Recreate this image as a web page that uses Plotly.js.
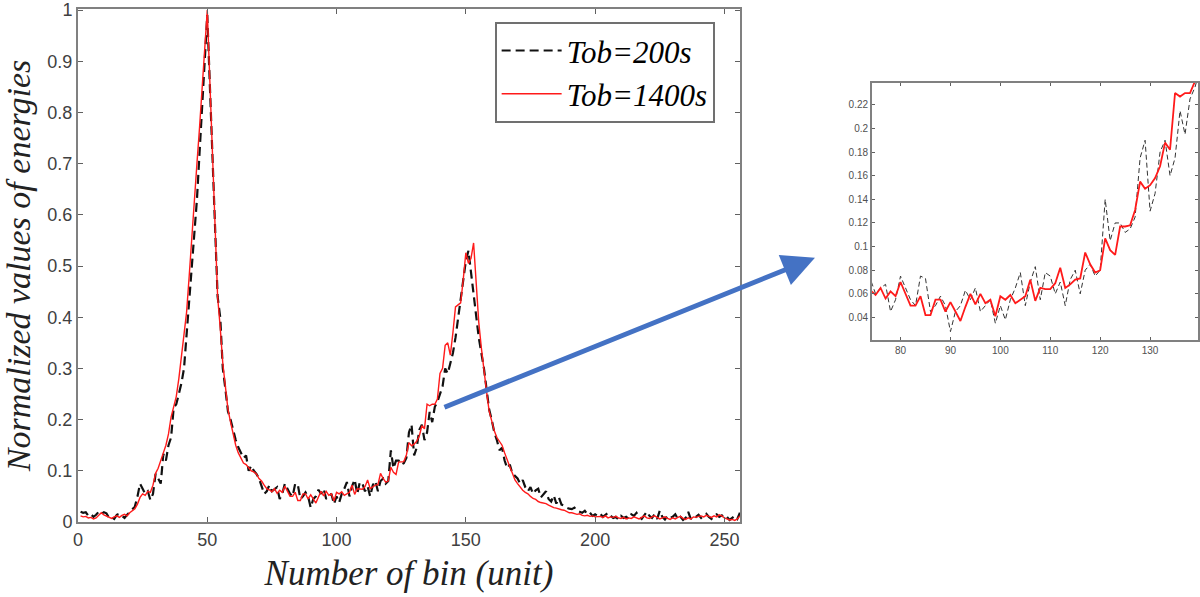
<!DOCTYPE html>
<html>
<head>
<meta charset="utf-8">
<script src="https://cdn.plot.ly/plotly-3.0.1.min.js"></script>
<style>
  html, body { margin: 0; padding: 0; background: #fff; }
  #plot { width: 1200px; height: 597px; }
</style>
</head>
<body>
<div id="plot"></div>
<script>
// bin numbers 1..256
var bins = [];
for (var i = 1; i <= 256; i++) bins.push(i);

// Tob=1400s (red solid)
var tob1400 = [
  0.012, 0.010, 0.011, 0.008, 0.009, 0.006, 0.008, 0.014, 0.018, 0.014,
  0.012, 0.010, 0.007, 0.010, 0.012, 0.009, 0.013, 0.015, 0.012, 0.018,
  0.022, 0.026, 0.035, 0.048, 0.055, 0.052, 0.060, 0.058, 0.072, 0.095,
  0.105, 0.118, 0.135, 0.150, 0.172, 0.205, 0.225, 0.245, 0.280, 0.320,
  0.360, 0.410, 0.480, 0.560, 0.630, 0.700, 0.770, 0.850, 0.925, 1.000,
  0.860, 0.720, 0.580, 0.440, 0.380, 0.310, 0.265, 0.220, 0.195, 0.170,
  0.150, 0.135, 0.125, 0.115, 0.112, 0.105, 0.100, 0.098, 0.094, 0.085,
  0.080, 0.072, 0.065, 0.063, 0.059, 0.065, 0.056, 0.062, 0.058, 0.070,
  0.060, 0.050, 0.050, 0.058, 0.042, 0.042, 0.055, 0.055, 0.045, 0.053,
  0.045, 0.037, 0.049, 0.060, 0.051, 0.060, 0.052, 0.055, 0.041, 0.058,
  0.055, 0.059, 0.052, 0.055, 0.058, 0.072, 0.054, 0.065, 0.064, 0.064,
  0.069, 0.082, 0.065, 0.068, 0.072, 0.073, 0.095, 0.085, 0.078, 0.080,
  0.107, 0.097, 0.093, 0.117, 0.117, 0.118, 0.131, 0.155, 0.149, 0.152,
  0.158, 0.168, 0.188, 0.182, 0.230, 0.227, 0.230, 0.230, 0.240, 0.290,
  0.300, 0.345, 0.350, 0.326, 0.370, 0.420, 0.424, 0.428, 0.474, 0.526,
  0.505, 0.515, 0.545, 0.465, 0.390, 0.340, 0.294, 0.255, 0.217, 0.195,
  0.178, 0.165, 0.158, 0.150, 0.135, 0.120, 0.108, 0.095, 0.082, 0.075,
  0.068, 0.062, 0.058, 0.055, 0.050, 0.046, 0.044, 0.040, 0.038, 0.037,
  0.036, 0.033, 0.030, 0.028, 0.027, 0.025, 0.024, 0.023, 0.020, 0.018,
  0.018, 0.016, 0.015, 0.016, 0.013, 0.012, 0.013, 0.011, 0.012, 0.010,
  0.010, 0.011, 0.009, 0.012, 0.008, 0.010, 0.009, 0.011, 0.008, 0.007,
  0.009, 0.006, 0.008, 0.007, 0.010, 0.008, 0.006, 0.009, 0.012, 0.008,
  0.007, 0.010, 0.012, 0.009, 0.006, 0.008, 0.010, 0.007, 0.005, 0.008,
  0.006, 0.009, 0.011, 0.007, 0.005, 0.008, 0.006, 0.010, 0.009, 0.011,
  0.012, 0.010, 0.013, 0.011, 0.009, 0.012, 0.010, 0.014, 0.012, 0.008,
  0.006, 0.004, 0.005, 0.003, 0.006, 0.012
];

// Tob=200s (black dashed)
var tob200 = [
  0.020, 0.018, 0.019, 0.012, 0.015, 0.010, 0.014, 0.020, 0.016, 0.019,
  0.017, 0.008, 0.010, 0.006, 0.014, 0.016, 0.012, 0.008, 0.014, 0.020,
  0.024, 0.030, 0.050, 0.075, 0.065, 0.055, 0.060, 0.043, 0.055, 0.094,
  0.085, 0.075, 0.133, 0.120, 0.150, 0.165, 0.223, 0.230, 0.250, 0.271,
  0.300, 0.365, 0.430, 0.490, 0.560, 0.630, 0.720, 0.800, 0.900, 0.990,
  0.850, 0.710, 0.570, 0.440, 0.400, 0.300, 0.260, 0.216, 0.200, 0.178,
  0.160, 0.146, 0.135, 0.125, 0.130, 0.100, 0.110, 0.100, 0.094, 0.085,
  0.070, 0.055, 0.060, 0.072, 0.060, 0.065, 0.068, 0.045, 0.055, 0.075,
  0.065, 0.055, 0.050, 0.075, 0.073, 0.045, 0.050, 0.058, 0.050, 0.028,
  0.045, 0.050, 0.063, 0.055, 0.065, 0.045, 0.050, 0.055, 0.035, 0.050,
  0.038, 0.055, 0.065, 0.078, 0.050, 0.070, 0.083, 0.055, 0.078, 0.075,
  0.060, 0.070, 0.050, 0.072, 0.080, 0.060, 0.080, 0.085, 0.075, 0.080,
  0.140, 0.105, 0.120, 0.120, 0.112, 0.115, 0.125, 0.175, 0.190, 0.130,
  0.145, 0.180, 0.190, 0.160, 0.175, 0.215, 0.195, 0.225, 0.235, 0.250,
  0.265, 0.300, 0.290, 0.310, 0.330, 0.360, 0.400, 0.430, 0.470, 0.510,
  0.530, 0.487, 0.450, 0.400, 0.360, 0.330, 0.300, 0.260, 0.220, 0.200,
  0.175, 0.160, 0.140, 0.145, 0.120, 0.105, 0.112, 0.095, 0.090, 0.085,
  0.075, 0.082, 0.068, 0.060, 0.068, 0.055, 0.062, 0.065, 0.048, 0.055,
  0.060, 0.045, 0.040, 0.052, 0.036, 0.048, 0.034, 0.032, 0.028, 0.026,
  0.025, 0.028, 0.022, 0.020, 0.018, 0.022, 0.015, 0.018, 0.012, 0.015,
  0.012, 0.016, 0.010, 0.014, 0.018, 0.012, 0.008, 0.010, 0.005, 0.012,
  0.008, 0.010, 0.006, 0.015, 0.012, 0.018, 0.010, 0.006, 0.014, 0.020,
  0.012, 0.008, 0.015, 0.006, 0.022, 0.010, 0.005, 0.012, 0.008, 0.010,
  0.015, 0.006, 0.010, 0.004, 0.008, 0.020, 0.006, 0.012, 0.010, 0.014,
  0.008, 0.012, 0.016, 0.010, 0.006, 0.012, 0.015, 0.010, 0.013, 0.008,
  0.010, 0.004, 0.008, 0.012, 0.006, 0.018
];

var seriesNames = ["Tob=200s", "Tob=1400s"];
var mainXTicks = [0, 50, 100, 150, 200, 250];
var mainYTicks = [0, 0.1, 0.2, 0.3, 0.4, 0.5, 0.6, 0.7, 0.8, 0.9, 1];
var insetXTicks = [80, 90, 100, 110, 120, 130];
var insetYTicks = [0.04, 0.06, 0.08, 0.1, 0.12, 0.14, 0.16, 0.18, 0.2, 0.22];

var serif = "Times New Roman, Times, Liberation Serif, serif";
var sans = "Arial, Helvetica, Liberation Sans, sans-serif";

var data = [
  {
    x: bins, y: tob200, name: seriesNames[0], type: "scatter", mode: "lines",
    line: { color: "#111", width: 2.2, dash: "9px,5px" }
  },
  {
    x: bins, y: tob1400, name: seriesNames[1], type: "scatter", mode: "lines",
    line: { color: "#ff1a1a", width: 1.4 }
  },
  // zoomed view
  {
    x: bins, y: tob200, xaxis: "x2", yaxis: "y2", showlegend: false,
    type: "scatter", mode: "lines",
    line: { color: "#333", width: 1, dash: "5px,3px" }
  },
  {
    x: bins, y: tob1400, xaxis: "x2", yaxis: "y2", showlegend: false,
    type: "scatter", mode: "lines",
    line: { color: "#ff1a1a", width: 1.8 }
  }
];

var axisCommon = {
  showgrid: false, zeroline: false, showline: true, mirror: "ticks",
  linecolor: "#808080", ticks: "inside", tickcolor: "#606060",
  ticklabeloverflow: "allow"
};

var layout = {
  width: 1200, height: 597,
  margin: { l: 78, r: 2, t: 9, b: 75 },
  paper_bgcolor: "#fff", plot_bgcolor: "#fff",
  showlegend: true,
  legend: {
    x: 0.372, y: 0.975, xanchor: "left", yanchor: "top",
    bgcolor: "#fff", bordercolor: "#707070", borderwidth: 2,
    itemwidth: 60, tracegroupgap: 0,
    font: { family: serif, size: 31, style: "italic", color: "#000" }
  },
  xaxis: Object.assign({}, axisCommon, {
    domain: [0, 0.591], range: [0, 256], linewidth: 2,
    tickvals: mainXTicks, ticklen: 5,
    tickfont: { family: sans, size: 18, color: "#404040" },
    title: { text: "Number of bin (unit)", standoff: 12,
      font: { family: serif, size: 35, style: "italic", color: "#222" } }
  }),
  yaxis: Object.assign({}, axisCommon, {
    domain: [0, 1], range: [0, 1.002], linewidth: 2,
    tickvals: mainYTicks, ticklen: 5,
    tickfont: { family: sans, size: 18, color: "#404040" },
    title: { text: "Normalized values of energies", standoff: 10,
      font: { family: serif, size: 34, style: "italic", color: "#222" } }
  }),
  xaxis2: Object.assign({}, axisCommon, {
    domain: [0.709, 1.0], range: [74.3, 139.6], anchor: "y2", linewidth: 2,
    tickvals: insetXTicks, ticklen: 3,
    tickfont: { family: sans, size: 10, color: "#505050" }
  }),
  yaxis2: Object.assign({}, axisCommon, {
    domain: [0.355, 0.856], range: [0.021, 0.2386], anchor: "x2", linewidth: 2,
    tickvals: insetYTicks, ticklen: 3,
    tickfont: { family: sans, size: 10, color: "#505050" }
  }),
  annotations: [
    {
      xref: "paper", yref: "paper", x: 0.658, y: 0.515,
      ax: -372, ay: 150, axref: "pixel", ayref: "pixel",
      text: "", showarrow: true, arrowhead: 2, arrowsize: 1.3,
      arrowwidth: 5, arrowcolor: "#4472c4"
    }
  ]
};

Plotly.newPlot("plot", data, layout, { displayModeBar: false, staticPlot: true });
</script>
</body>
</html>
